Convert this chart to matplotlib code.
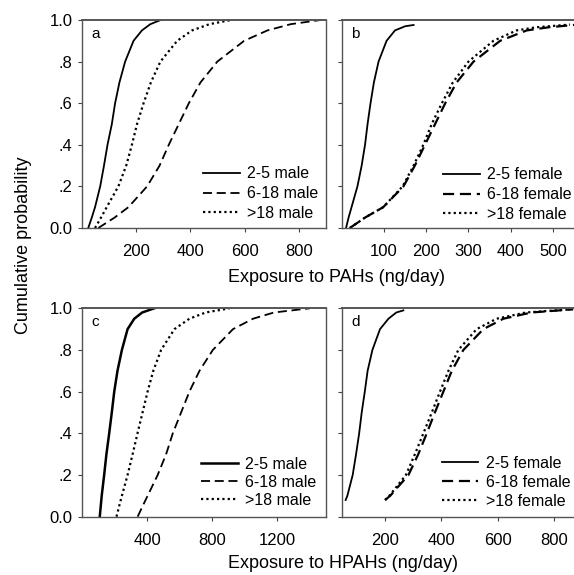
import matplotlib
matplotlib.use("Agg")
import matplotlib.pyplot as plt

plt.rcParams['font.family'] = ['Liberation Sans', 'DejaVu Sans']

# probability levels
P = [0, .05, .1, .2, .3, .4, .5, .6, .7, .8, .9, .95, .98, 1.0]

# panel a - PAHs, male (ng/day at each probability level)
a_male_2_5 = [23, 36, 48, 67, 81, 94, 110, 122, 138, 159, 190, 221, 252, 290]
a_male_6_18 = [60, 120, 171, 240, 286, 320, 357, 394, 437, 499, 598, 684, 770, 880]
a_male_18 = [48, 70, 91, 134, 163, 184, 203, 227, 254, 289, 351, 406, 470, 550]

# panel b - PAHs, female
b_p_2_5 = [0, .05, .1, .2, .3, .4, .5, .6, .7, .8, .9, .95, .97, .976]
b_female_2_5 = [10, 16, 23, 37, 47, 55, 61, 68, 76, 87, 106, 126, 150, 170]
b_p_other = [0, .05, .1, .2, .3, .4, .5, .6, .7, .8, .9, .95, .965, .978]
b_female_6_18 = [19, 55, 98, 146, 173, 197, 221, 245, 272, 312, 375, 438, 490, 560]
b_female_18 = [19, 55, 98, 144, 170, 193, 213, 237, 263, 300, 359, 414, 460, 540]

# panel c - HPAHs, male
c_male_2_5 = [109, 115, 121, 136, 150, 167, 183, 198, 218, 245, 280, 321, 370, 444]
c_male_6_18 = [342, 372, 403, 465, 517, 558, 609, 660, 722, 804, 928, 1051, 1180, 1400]
c_male_18 = [212, 228, 245, 280, 311, 341, 372, 403, 438, 486, 568, 660, 760, 907]

# panel d - HPAHs, female
d_p_2_5 = [.08, .1, .2, .3, .4, .5, .6, .7, .8, .9, .95, .98, .99]
d_female_2_5 = [60, 66, 85, 97, 108, 117, 128, 138, 155, 182, 212, 240, 265]
d_p_other = [.08, .1, .2, .3, .4, .5, .6, .7, .8, .9, .95, .98, .995]
d_female_6_18 = [200, 218, 283, 318, 348, 377, 407, 437, 478, 549, 620, 720, 868]
d_female_18 = [200, 215, 274, 306, 336, 366, 395, 425, 460, 525, 596, 700, 860]

yticks = [0, .2, .4, .6, .8, 1.0]
ytick_labels = ["0.0", ".2", ".4", ".6", ".8", "1.0"]

DASH = (0, (5, 2.6))
DOT = (0, (1, 1.4))

fig = plt.figure(figsize=(5.74, 5.75), dpi=100)
ax_a = fig.add_axes([0.1429, 0.6035, 0.4251, 0.3617])
ax_b = fig.add_axes([0.5955, 0.6035, 0.4045, 0.3617])
ax_c = fig.add_axes([0.1429, 0.1014, 0.4251, 0.3624])
ax_d = fig.add_axes([0.5953, 0.1014, 0.4047, 0.3624])


def style(ax, letter, xlim, xticks, show_ylabels, right_spine=True):
    ax.set_xlim(*xlim)
    ax.set_ylim(0, 1.0)
    ax.set_xticks(xticks)
    ax.set_yticks(yticks)
    if show_ylabels:
        ax.set_yticklabels(ytick_labels)
    else:
        ax.set_yticklabels([])
    ax.tick_params(direction='out', length=3, width=0.8, colors='#444',
                   labelcolor='black', labelsize=12)
    ax.tick_params(axis='x', pad=8.5)
    ax.tick_params(axis='y', pad=4)
    for s in ax.spines.values():
        s.set_color('#555')
        s.set_linewidth(1.0)
    ax.spines['top'].set_linewidth(1.4)
    if not right_spine:
        ax.spines['right'].set_visible(False)
    ax.text(0.04, 0.935, letter, transform=ax.transAxes, fontsize=11,
            ha='left', va='center')


lw = 1.3
ax_a.plot(a_male_2_5, P, color='black', lw=lw, label='2-5 male')
ax_a.plot(a_male_6_18, P, color='black', lw=lw, ls=DASH, label='6-18 male')
ax_a.plot(a_male_18, P, color='black', lw=1.6, ls=DOT, label='>18 male')
style(ax_a, 'a', (0, 900), [200, 400, 600, 800], True)

ax_b.plot(b_female_2_5, b_p_2_5, color='black', lw=lw, label='2-5 female')
ax_b.plot(b_female_6_18, b_p_other, color='black', lw=1.6, ls=DASH, label='6-18 female')
ax_b.plot(b_female_18, b_p_other, color='black', lw=1.6, ls=DOT, label='>18 female')
style(ax_b, 'b', (0, 550), [100, 200, 300, 400, 500], False, right_spine=False)

ax_c.plot(c_male_2_5, P, color='black', lw=1.8, label='2-5 male')
ax_c.plot(c_male_6_18, P, color='black', lw=lw, ls=DASH, label='6-18 male')
ax_c.plot(c_male_18, P, color='black', lw=1.6, ls=DOT, label='>18 male')
style(ax_c, 'c', (0, 1500), [400, 800, 1200], True)

ax_d.plot(d_female_2_5, d_p_2_5, color='black', lw=lw, label='2-5 female')
ax_d.plot(d_female_6_18, d_p_other, color='black', lw=1.6, ls=DASH, label='6-18 female')
ax_d.plot(d_female_18, d_p_other, color='black', lw=1.6, ls=DOT, label='>18 female')
style(ax_d, 'd', (46, 871), [200, 400, 600, 800], False, right_spine=False)

leg_kw = dict(loc='lower left', frameon=False, fontsize=11.5, borderpad=0,
              borderaxespad=0, handlelength=2.3, handletextpad=0.45)
ax_a.legend(bbox_to_anchor=(0.496, 0.034), labelspacing=0.3, **leg_kw)
ax_b.legend(bbox_to_anchor=(0.436, 0.029), labelspacing=0.3, **leg_kw)
ax_c.legend(bbox_to_anchor=(0.488, 0.042), labelspacing=0.2, **leg_kw)
ax_d.legend(bbox_to_anchor=(0.430, 0.037), labelspacing=0.25, **leg_kw)

fig.text(0.586, 0.518, "Exposure to PAHs (ng/day)", ha='center', va='center', fontsize=13)
fig.text(0.597, 0.020, "Exposure to HPAHs (ng/day)", ha='center', va='center', fontsize=13)
fig.text(0.041, 0.573, "Cumulative probability", ha='center', va='center',
         rotation=90, fontsize=13)

fig.savefig("out.png", dpi=100)
